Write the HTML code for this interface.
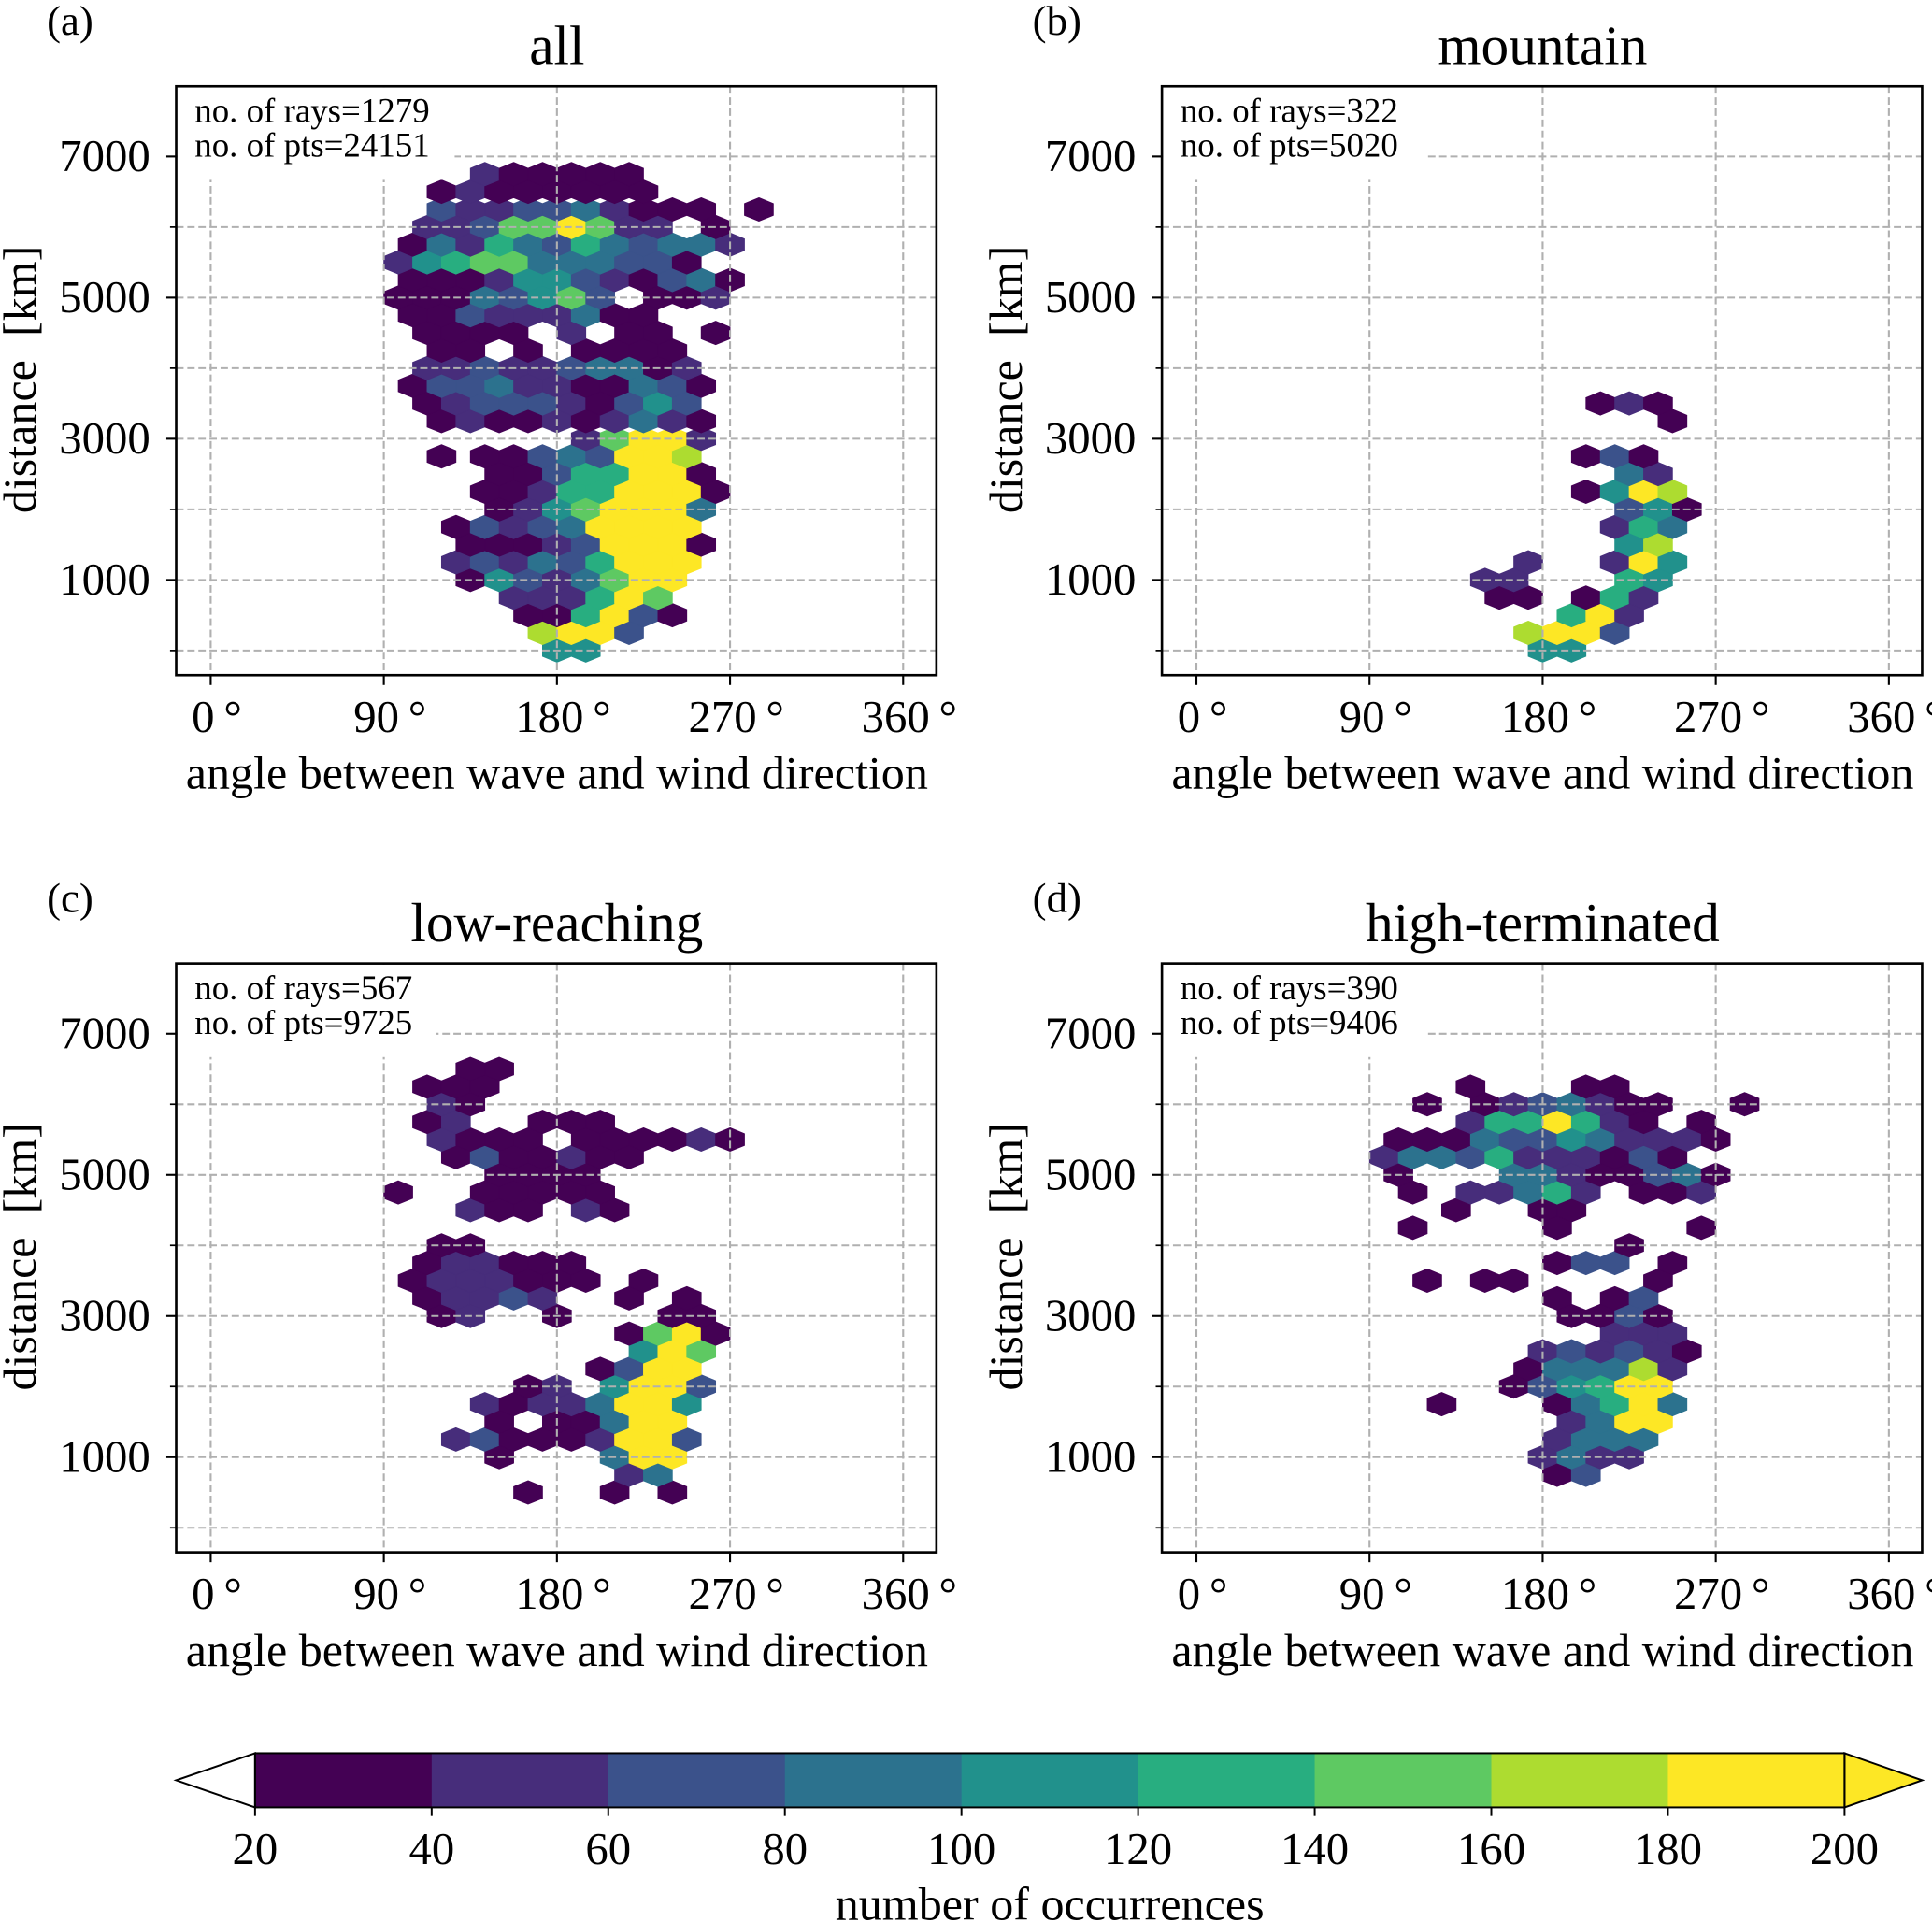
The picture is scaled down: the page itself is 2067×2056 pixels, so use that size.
<!DOCTYPE html>
<html><head><meta charset="utf-8"><style>
html,body{margin:0;padding:0;background:#fff;}
svg{display:block;}
text{font-family:"Liberation Serif","DejaVu Serif",serif;fill:#000;white-space:pre;}
</style></head><body>
<svg id="fig" width="2067" height="2056" viewBox="0 0 1568 1560" preserveAspectRatio="none" xmlns="http://www.w3.org/2000/svg"></svg>
<script>
// ---- data ----
const binEdges = [20,40,60,80,100,120,140,160,180,200];
const binColors = ["#440154","#472d7b","#3b528b","#2c728e","#21918c","#28ae80","#5ec962","#addc30","#fde725"];
const xTicks = [0,90,180,270,360];
const yTicksMajor = [1000,3000,5000,7000];
const yTicksMinor = [0,2000,4000,6000];
const panelTitles = ["all","mountain","low-reaching","high-terminated"];
const panelLetters = ["(a)","(b)","(c)","(d)"];
const rayCounts = [1279,322,567,390];
const ptCounts = [24151,5020,9725,9406];
// hex rows: [row index (x250 km), half-column start (x7.5 deg), bin codes per hex ('.'=empty)]
const hexA = [
 [0,24,"44"],[1,23,"7882"],[2,22,"005820"],[3,21,"111586"],[4,18,"04213688"],
 [5,17,"121325888"],[6,18,"000128880"],[7,17,"021238888"],[8,20,"01468883"],
 [9,19,"001558880"],[10,20,"00255880"],[11,16,"0"],[11,19,"00232887"],[12,26,"16881"],
 [13,16,"0100101310"],[14,15,"0122210242"],[15,14,"02231100320"],[16,15,"1121123301"],
 [17,16,"00.0.0000"],[18,15,"0000.1.00.0"],[19,14,"002111300"],[20,13,"00032462.001"],
 [21,14,"000144210230"],[22,13,"14566333220"],[23,14,"031532532331"],
 [24,15,"112668611.0"],[25,16,"2112231000"],[25,38,"0"],[26,16,"01000000"],[27,19,"100000"]
];
const hexB = [
 [0,24,"44"],[1,23,"7882"],[2,26,"581"],[3,27,"051"],[3,21,"00"],[4,20,"11"],[4,30,"54"],
 [5,23,"1"],[5,29,"184"],[6,30,"47"],[7,29,"153"],[8,30,"240"],[9,27,"0487"],
 [10,30,"31"],[11,27,"020"],[13,33,"0"],[14,28,"010"]
];
const hexC = [
 [2,22,"0"],[2,28,"0"],[2,32,"0"],[3,29,"13"],[4,20,"0"],[4,28,"388"],
 [5,17,"120001882"],[6,20,"0.00388"],[7,19,"10113884"],[8,22,"01.4882"],
 [9,27,"0288"],[10,30,"486"],[11,29,"0680"],[12,32,"00"],[12,16,"01"],[12,24,"0"],
 [13,15,"01121"],[13,29,"0"],[13,33,"0"],[14,14,"0111000"],[14,30,"0"],
 [15,15,"011000"],[16,16,"00"],[18,18,"100"],[18,26,"10"],[19,13,"0"],[19,19,"00000"],
 [20,20,"0000"],[21,17,"0200100"],[22,16,"1000.000010"],[23,15,"01..000"],
 [24,16,"10"],[25,15,"000"],[26,18,"00"]
];
const hexD = [
 [3,25,"02"],[4,24,"1311"],[5,25,"1333"],[6,26,"1388"],[7,17,"0"],[7,25,"03583"],
 [8,22,"024588"],[9,23,"033371"],[10,24,"121210"],[11,29,"111"],[12,26,"0020"],
 [13,25,"0.02"],[14,16,"0"],[14,20,"00"],[14,32,"0"],[15,25,"022.0"],[16,30,"0"],
 [17,15,"0"],[17,25,"0"],[17,35,"0"],[18,18,"0"],[18,24,"00"],[19,15,"0.11351.001"],
 [20,14,"0"],[20,22,"33100230"],[21,13,"13325111020"],[22,14,"000322431110"],
 [23,19,"1558510.0"],[24,16,"0"],[24,20,"0123100"],[24,38,"0"],[25,19,"0"],[25,27,"00"]
];
const hexData = [hexA,hexB,hexC,hexD];

// ---- drawing ----
const NS="http://www.w3.org/2000/svg";
const svg=document.getElementById('fig');
function mk(tag,attrs,parent){const e=document.createElementNS(NS,tag);for(const k in attrs)e.setAttribute(k,attrs[k]);(parent||svg).appendChild(e);return e;}
function colorOf(v){let i=0;while(i<binColors.length-1&&v>=binEdges[i+1])i++;return binColors[i];}
const panels=[{ox:0,oy:0,boxW:225},{ox:800,oy:0,boxW:212},{ox:0,oy:712,boxW:210},{ox:800,oy:712,boxW:212}];

panels.forEach((p,pi)=>{
  const xs=d=>p.ox+171+d*562/360;
  const ys=k=>p.oy+528-k*401/7000;
  const g=mk('g',{});
  
  
  const x0=p.ox+143,x1=p.ox+760,y0=p.oy+70,y1=p.oy+548;
  const clipId='clip'+pi;
  const cp=mk('clipPath',{id:clipId},g);mk('rect',{x:x0,y:y0,width:x1-x0,height:y1-y0},cp);
  const hg=mk('g',{'clip-path':'url(#'+clipId+')'},g);
  
  
  const hw=xs(7.5)-xs(0);
  hexData[pi].forEach(row=>{
    const r=row[0],h0=row[1],s=row[2];
    for(let k=0;k<s.length;k++){
      if(s[k]==='.')continue;
      const val=30+20*parseInt(s[k]);
      const cx=xs((h0+2*k)*7.5), yk=r*250;
      const yt=ys(yk+500/3), ys1=ys(yk+500/6), ys2=ys(yk-500/6), yb=ys(yk-500/3);
      const pts=[[cx,yt],[cx+hw,ys1],[cx+hw,ys2],[cx,yb],[cx-hw,ys2],[cx-hw,ys1]].map(q=>q[0].toFixed(2)+','+q[1].toFixed(2)).join(' ');
      const c=colorOf(val);
      const hex=mk('polygon',{points:pts,fill:c,stroke:c,'stroke-width':0.6},hg);
      
      
    }
  });
  // grid
  xTicks.forEach(t=>{const l=mk('line',{x1:xs(t),x2:xs(t),y1:y0,y2:y1,stroke:'#b0b0b0','stroke-width':1.6,'stroke-dasharray':'6,3'},g);
    });
  yTicksMajor.concat(yTicksMinor).forEach(t=>{const l=mk('line',{x1:x0,x2:x1,y1:ys(t),y2:ys(t),stroke:'#b0b0b0','stroke-width':1.6,'stroke-dasharray':'6,3'},g);
    });
  // info box
  const bx=mk('rect',{x:x0+1,y:y0+1,width:p.boxW,height:75,fill:'#fff'},g);
  
  const t1=mk('text',{x:x0+15,y:y0+29,'font-size':28},g);t1.textContent='no. of rays='+rayCounts[pi];
  
  const t2=mk('text',{x:x0+15,y:y0+57,'font-size':28},g);t2.textContent='no. of pts='+ptCounts[pi];
  
  // frame
  const fr=mk('rect',{x:x0,y:y0,width:x1-x0,height:y1-y0,fill:'none',stroke:'#000','stroke-width':2},g);
  
  // ticks
  xTicks.forEach(t=>{mk('line',{x1:xs(t),x2:xs(t),y1:y1,y2:y1+8,stroke:'#000','stroke-width':1.6},g);
    const tl=mk('text',{x:xs(t)+5,y:y1+46,'font-size':37,'text-anchor':'middle'},g);tl.textContent=t+'\u2009°';
    });
  yTicksMajor.forEach(t=>{mk('line',{x1:x0-8,x2:x0,y1:ys(t),y2:ys(t),stroke:'#000','stroke-width':1.6},g);
    const tl=mk('text',{x:x0-21,y:ys(t)+12,'font-size':37,'text-anchor':'end'},g);tl.textContent=t;
    });
  yTicksMinor.forEach(t=>{mk('line',{x1:x0-5,x2:x0,y1:ys(t),y2:ys(t),stroke:'#000','stroke-width':1.3},g);});
  const xl=mk('text',{x:p.ox+452,y:p.oy+640,'font-size':38,'text-anchor':'middle'},g);xl.textContent='angle between wave and wind direction';
  
  const yl=mk('text',{x:0,y:0,'font-size':38,'text-anchor':'middle',transform:'translate('+(p.ox+29)+','+(p.oy+308)+') rotate(-90)'},g);yl.textContent='distance  [km]';
  
  const ti=mk('text',{x:p.ox+452,y:p.oy+52,'font-size':45,'text-anchor':'middle'},g);ti.textContent=panelTitles[pi];
  
  const lt=mk('text',{x:p.ox+38,y:p.oy+28,'font-size':34},g);lt.textContent=panelLetters[pi];
  
});

// colorbar
const cb=mk('g',{});


const cbx=v=>207+(v-20)*(1497-207)/180;
const cy0=1423,cy1=1467;
for(let i=0;i<binColors.length;i++){
  const r=mk('rect',{x:cbx(binEdges[i]),y:cy0,width:cbx(binEdges[i+1])-cbx(binEdges[i])+0.5,height:cy1-cy0,fill:binColors[i]},cb);
  
}
mk('polygon',{points:`207,${cy0} 143,${(cy0+cy1)/2} 207,${cy1}`,fill:'#fff',stroke:'#000','stroke-width':1.5},cb);
mk('polygon',{points:`1497,${cy0} 1560,${(cy0+cy1)/2} 1497,${cy1}`,fill:'#fde725',stroke:'#000','stroke-width':1.5},cb);
mk('rect',{x:207,y:cy0,width:1290,height:cy1-cy0,fill:'none',stroke:'#000','stroke-width':1.5},cb);
binEdges.forEach(v=>{
  mk('line',{x1:cbx(v),x2:cbx(v),y1:cy1,y2:cy1+7,stroke:'#000','stroke-width':1.5},cb);
  const t=mk('text',{x:cbx(v),y:1513,'font-size':37,'text-anchor':'middle'},cb);t.textContent=v;
  
});
const cl=mk('text',{x:852,y:1558,'font-size':38,'text-anchor':'middle'},cb);cl.textContent='number of occurrences';

</script>
</body></html>
